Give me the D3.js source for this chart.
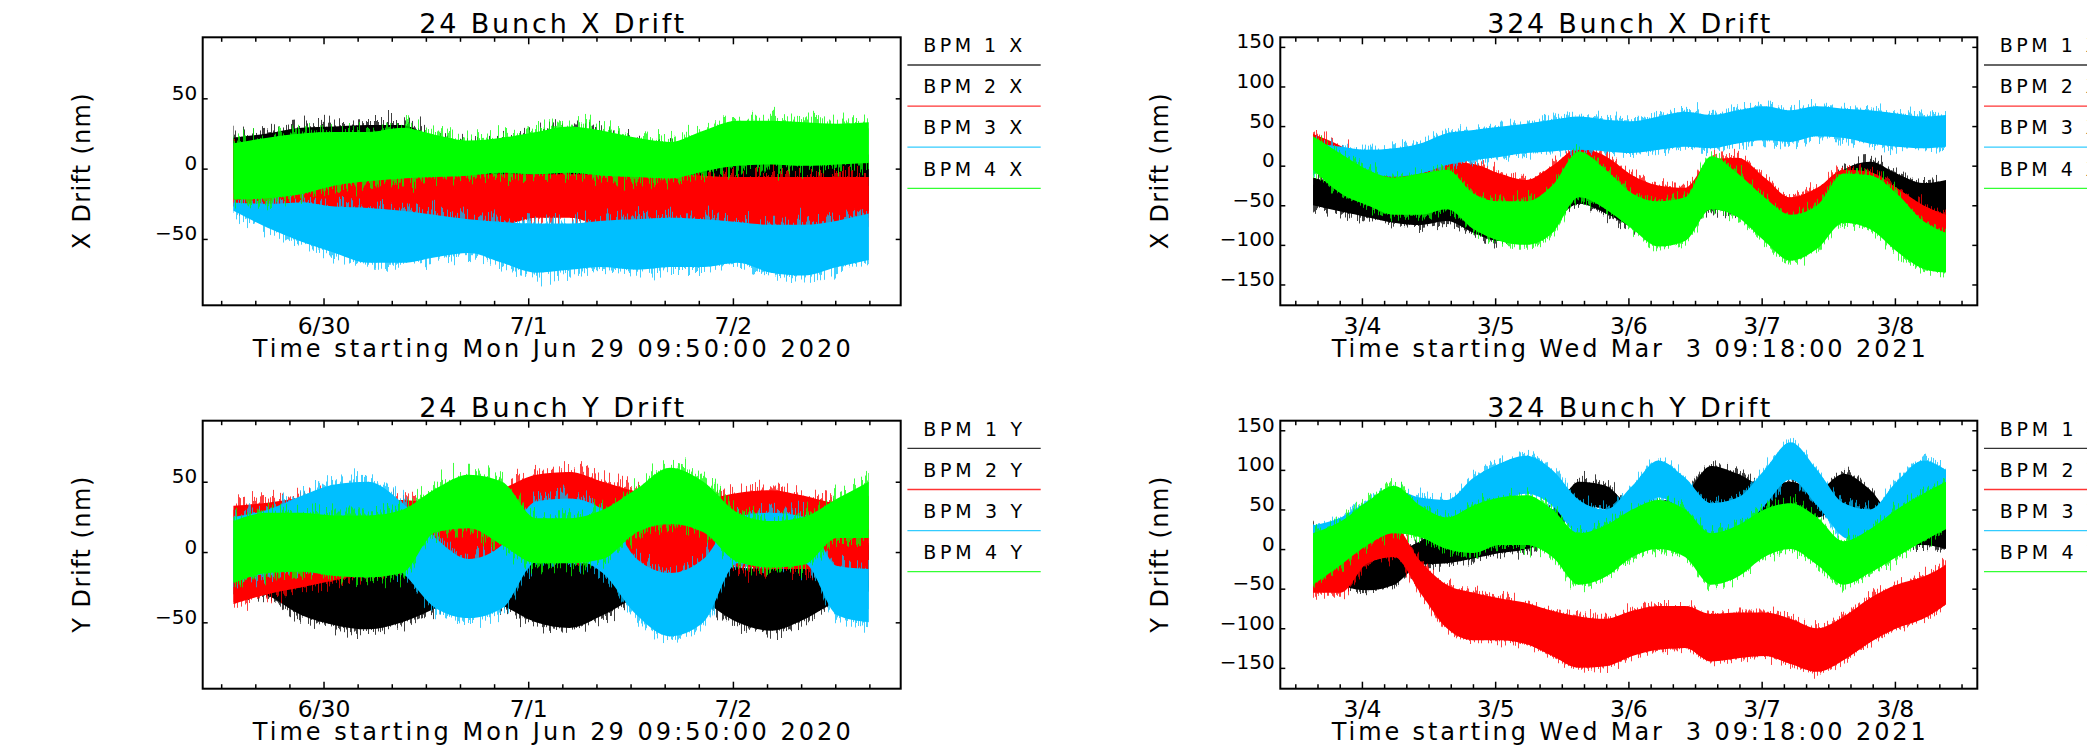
<!DOCTYPE html>
<html><head><meta charset="utf-8">
<script src="https://cdn.jsdelivr.net/npm/d3@7"></script>
<style>
body{margin:0;background:#fff;}
svg text{font-family:"DejaVu Sans",sans-serif;fill:#000;}
</style></head><body>
<svg id="c" width="2087" height="751"></svg>
<script>
// ---------- DATA (hours since the run start, band top / bottom in nm) ----------
const hours24 = [3.6, 7.6, 11.6, 15.5, 19.4, 23.4, 27.3, 31.2, 35.1, 39.1, 43.0, 46.9, 50.9, 54.8, 58.7, 62.7, 66.6, 70.5, 74.4, 78.1];
const hours324 = [5.9, 10.9, 15.7, 20.5, 25.2, 30.0, 34.8, 39.5, 44.3, 49.0, 53.8, 58.6, 63.4, 68.1, 72.9, 77.6, 82.4, 87.2, 91.9, 96.7, 101.5, 106.2, 111.0, 115.8, 119.9];

// 24 bunch X
const x24Bpm1Hi = [22, 25, 29, 30, 31, 31, 20, 16, 18, 25, 28, 25, 18, 14, 8, 5, 5, 5, 4, 5];
const x24Bpm1Lo = [-15, -12, -8, -6, -5, -5, -10, -12, -10, -6, -5, -6, -12, -20, -28, -30, -30, -30, -30, -30];
const x24Bpm2Hi = [15, 8, 2, 0, -2, -3, -4, -4, -4, -4, -4, -4, -4, -4, -5, -6, -6, -6, -6, -6];
const x24Bpm2Lo = [-27, -28, -27, -30, -31, -33, -36, -39, -40, -35, -35, -40, -39, -38, -39, -41, -43, -43, -40, -35];
const x24Bpm3Hi = [-24, -25, -24, -27, -28, -30, -33, -36, -38, -39, -39, -37, -36, -35, -36, -38, -40, -40, -37, -32];
const x24Bpm3Lo = [-30, -42, -52, -60, -67, -67, -63, -60, -67, -74, -72, -70, -72, -70, -70, -67, -74, -76, -70, -65];
const x24Bpm4Hi = [18, 22, 25, 26, 26, 29, 24, 20, 22, 26, 30, 27, 22, 19, 27, 34, 34, 33, 32, 33];
const x24Bpm4Lo = [-22, -21, -18, -12, -9, -7, -6, -5, -3, -4, -3, -5, -6, -7, -2, 2, 3, 2, 3, 4];

// 24 bunch Y
const y24Bpm1Hi = [10, 5, -10, -17, -18, -14, -5, 5, -3, -7, -8, -8, 5, 10, -2, -11, -12, -10, 0, 5];
const y24Bpm1Lo = [-25, -31, -45, -52, -55, -50, -40, -30, -38, -50, -54, -45, -32, -25, -35, -50, -56, -48, -35, -28];
const y24Bpm2Hi = [33, 35, 38, 38, 36, 37, 35, 38, 45, 55, 57, 50, 43, 40, 38, 42, 44, 40, 35, 40];
const y24Bpm2Lo = [-37, -30, -25, -20, -15, -10, -8, -5, -5, 0, 0, -5, -12, -16, -12, -10, -12, -12, -14, -15];
const y24Bpm3Hi = [25, 30, 40, 48, 50, 35, 10, -5, 5, 36, 38, 30, -5, -15, -5, 25, 28, 25, -10, -12];
const y24Bpm3Lo = [-20, -15, -10, -5, -5, -15, -40, -47, -40, -7, -5, -15, -45, -60, -50, -8, -8, -8, -45, -50];
const y24Bpm4Hi = [22, 28, 28, 26, 26, 30, 45, 55, 50, 24, 24, 30, 45, 60, 50, 28, 22, 25, 38, 50];
const y24Bpm4Lo = [-22, -15, -14, -17, -18, -15, 14, 17, 5, -8, -8, -5, 14, 20, 14, -7, -11, -9, 10, 10];

// 324 bunch X
const x324Bpm1Hi = [-15, -25, -35, -45, -50, -45, -55, -65, -60, -45, -25, -35, -50, -65, -55, -30, -40, -55, -65, -55, -5, 5, -10, -22, -18];
const x324Bpm1Lo = [-50, -58, -65, -72, -75, -70, -85, -95, -90, -72, -48, -60, -78, -92, -82, -55, -62, -78, -90, -80, -45, -40, -50, -60, -64];
const x324Bpm2Hi = [40, 25, 5, -8, -5, 5, 2, -10, -18, 0, 22, 12, -12, -25, -28, 8, 10, -15, -40, -28, -5, -8, -28, -50, -62];
const x324Bpm2Lo = [-5, -20, -40, -53, -50, -40, -43, -55, -63, -45, -23, -33, -57, -70, -73, -37, -35, -60, -85, -73, -50, -53, -73, -95, -107];
const x324Bpm3Hi = [28, 24, 20, 22, 28, 41, 45, 49, 53, 58, 62, 58, 56, 62, 68, 64, 70, 75, 70, 75, 72, 70, 66, 62, 64];
const x324Bpm3Lo = [-10, -6, -10, -14, -10, 1, 7, 11, 16, 18, 20, 18, 16, 20, 24, 22, 28, 32, 30, 37, 35, 28, 24, 22, 24];
const x324Bpm4Hi = [37, 15, -5, -15, -10, -5, -35, -45, -45, -25, 18, -5, -35, -45, -40, 12, -10, -40, -62, -50, -10, -12, -35, -70, -85];
const x324Bpm4Lo = [-5, -35, -50, -62, -62, -55, -80, -95, -100, -85, -40, -55, -80, -102, -95, -55, -65, -95, -120, -105, -72, -80, -108, -130, -135];

// 324 bunch Y
const y324Bpm1Hi = [30, -10, -15, -5, 10, 30, 35, 40, 45, 50, 85, 80, 55, 60, 70, 105, 95, 80, 85, 75, 95, 75, 40, 45, 40];
const y324Bpm1Lo = [5, -45, -52, -45, -20, -18, -12, -5, 0, 15, 55, 50, 25, 30, 40, 55, 50, 35, 45, 40, 55, 40, 5, 5, 0];
const y324Bpm2Hi = [-20, -10, 25, 28, -15, -45, -55, -62, -68, -78, -85, -88, -78, -72, -72, -82, -80, -80, -88, -100, -85, -62, -45, -35, -20];
const y324Bpm2Lo = [-55, -55, -18, -10, -55, -100, -115, -115, -120, -135, -150, -148, -135, -127, -125, -142, -138, -135, -145, -155, -140, -118, -100, -88, -70];
const y324Bpm3Hi = [30, 40, 60, 75, 65, 62, 90, 108, 118, 100, 62, 50, 80, 112, 90, 58, 65, 100, 135, 100, 58, 50, 85, 112, 100];
const y324Bpm3Lo = [-5, 0, 20, 35, 25, 25, 45, 60, 70, 55, 15, 5, 35, 65, 45, 12, 20, 55, 88, 55, 15, 5, 40, 65, 55];
const y324Bpm4Hi = [20, 35, 60, 80, 55, 40, 55, 65, 68, 50, 20, 30, 50, 62, 50, 20, 30, 50, 58, 40, 10, 25, 50, 70, 85];
const y324Bpm4Lo = [-45, -20, 5, 20, 15, 0, -5, 5, 5, -10, -45, -35, -10, 0, -10, -45, -35, -10, 0, -20, -45, -30, -10, 10, 25];

const bpmNames = ["BPM 1", "BPM 2", "BPM 3", "BPM 4"];
const yTicks24 = [-50, 0, 50];
const yTicks324 = [-150, -100, -50, 0, 50, 100, 150];
const dayTicks24 = ["2020-06-30", "2020-07-01", "2020-07-02"];
const dayTicks324 = ["2021-03-04", "2021-03-05", "2021-03-06", "2021-03-07", "2021-03-08"];

// ---------- STYLE / LAYOUT ----------
const colors = ["#000000", "#ff0000", "#00bfff", "#00ff00"];
const L24 = 202.7, R24 = 900.7, L324 = 1280.3, R324 = 1977.3;
const panels = [
  {title: "24 Bunch X Drift", titleLen: 265, plane: "X", start: "2020-06-29T09:50:00Z", spanH: 81.84, yDom: [-97.2, 93.4],
   hours: hours24, hi: [x24Bpm1Hi, x24Bpm2Hi, x24Bpm3Hi, x24Bpm4Hi], lo: [x24Bpm1Lo, x24Bpm2Lo, x24Bpm3Lo, x24Bpm4Lo],
   l: L24, r: R24, t: 37.3, b: 305.3, yTicks: yTicks24, days: dayTicks24, tlabel: "Time starting Mon Jun 29 09:50:00 2020", tlen: 598, rough: 46},
  {title: "324 Bunch X Drift", titleLen: 283, plane: "X", start: "2021-03-03T09:18:00Z", spanH: 125.54, yDom: [-176.3, 162.1],
   hours: hours324, hi: [x324Bpm1Hi, x324Bpm2Hi, x324Bpm3Hi, x324Bpm4Hi], lo: [x324Bpm1Lo, x324Bpm2Lo, x324Bpm3Lo, x324Bpm4Lo],
   l: L324, r: R324, t: 37.3, b: 305.3, yTicks: yTicks324, days: dayTicks324, tlabel: "Time starting Wed Mar  3 09:18:00 2021", tlen: 594, rough: 30},
  {title: "24 Bunch Y Drift", titleLen: 265, plane: "Y", start: "2020-06-29T09:50:00Z", spanH: 81.84, yDom: [-97.2, 93.4],
   hours: hours24, hi: [y24Bpm1Hi, y24Bpm2Hi, y24Bpm3Hi, y24Bpm4Hi], lo: [y24Bpm1Lo, y24Bpm2Lo, y24Bpm3Lo, y24Bpm4Lo],
   l: L24, r: R24, t: 420.7, b: 688.7, yTicks: yTicks24, days: dayTicks24, tlabel: "Time starting Mon Jun 29 09:50:00 2020", tlen: 598, rough: 46},
  {title: "324 Bunch Y Drift", titleLen: 283, plane: "Y", start: "2021-03-03T09:18:00Z", spanH: 125.54, yDom: [-176.3, 162.1],
   hours: hours324, hi: [y324Bpm1Hi, y324Bpm2Hi, y324Bpm3Hi, y324Bpm4Hi], lo: [y324Bpm1Lo, y324Bpm2Lo, y324Bpm3Lo, y324Bpm4Lo],
   l: L324, r: R324, t: 420.7, b: 688.7, yTicks: yTicks324, days: dayTicks324, tlabel: "Time starting Wed Mar  3 09:18:00 2021", tlen: 594, rough: 30}
];

const svg = d3.select("#c");
const defs = svg.append("defs");
const HOUR = 3600e3;

// edge-roughening filter: a purely visual texture that jitters the band edges vertically
function makeRough(id, seed, scale) {
  const f = defs.append("filter").attr("id", id).attr("x", "0%").attr("y", "-50%")
    .attr("width", "100%").attr("height", "200%").attr("color-interpolation-filters", "sRGB");
  f.append("feTurbulence").attr("type", "fractalNoise").attr("baseFrequency", "0.7 0.003")
    .attr("numOctaves", 2).attr("seed", seed).attr("result", "n");
  f.append("feColorMatrix").attr("in", "n").attr("type", "matrix")
    .attr("values", "1 0 0 0 0  0 0 0 0 0.5  0 0 0 0 0  0 0 0 0 1").attr("result", "m");
  f.append("feDisplacementMap").attr("in", "SourceGraphic").attr("in2", "m")
    .attr("scale", scale).attr("xChannelSelector", "G").attr("yChannelSelector", "R");
}

panels.forEach((p, pi) => {
  const t0 = new Date(p.start);
  const t1 = new Date(+t0 + p.spanH * HOUR);
  const x = d3.scaleUtc().domain([t0, t1]).range([p.l, p.r]);
  const y = d3.scaleLinear().domain(p.yDom).range([p.b, p.t]);
  const g = svg.append("g");

  const clipId = "clip" + pi;
  defs.append("clipPath").attr("id", clipId).append("rect")
    .attr("x", p.l).attr("y", p.t).attr("width", p.r - p.l).attr("height", p.b - p.t);

  const area = d3.area()
    .x(d => x(new Date(+t0 + d.h * HOUR)))
    .y0(d => y(d.lo)).y1(d => y(d.hi))
    .curve(d3.curveMonotoneX);
  const bands = g.append("g").attr("clip-path", `url(#${clipId})`);
  for (let s = 0; s < 4; s++) {
    const fid = `rough${pi}_${s}`;
    makeRough(fid, 7 + pi * 4 + s, p.rough);
    const pts = p.hours.map((h, i) => ({h, hi: p.hi[s][i], lo: p.lo[s][i]}));
    bands.append("path").datum(pts).attr("d", area)
      .attr("fill", colors[s]).attr("fill-opacity", 0.75).attr("filter", `url(#${fid})`);
    bands.append("path").datum(pts).attr("d", area).attr("fill", colors[s]);
  }

  // axes
  const days = p.days.map(d => new Date(d + "T00:00:00Z"));
  const minors = d3.utcHour.every(4).range(t0, t1).filter(d => d.getUTCHours() !== 0);
  const styleAxis = sel => { sel.select(".domain").remove(); sel.selectAll("line").attr("stroke", "#000").attr("stroke-width", 1.5); };

  g.append("g").attr("transform", `translate(0,${p.b})`)
    .call(d3.axisBottom(x).tickValues(days).tickFormat(d3.utcFormat("%-m/%-d")).tickSize(-7).tickPadding(12))
    .call(styleAxis)
    .call(s => s.selectAll("text").attr("font-size", 23.5).attr("font-family", "DejaVu Sans").attr("fill", "#000"));
  g.append("g").attr("transform", `translate(0,${p.b})`)
    .call(d3.axisBottom(x).tickValues(minors).tickFormat("").tickSize(-4.5)).call(styleAxis);
  g.append("g").attr("transform", `translate(0,${p.t})`)
    .call(d3.axisTop(x).tickValues(days).tickFormat("").tickSize(-7)).call(styleAxis);
  g.append("g").attr("transform", `translate(0,${p.t})`)
    .call(d3.axisTop(x).tickValues(minors).tickFormat("").tickSize(-4.5)).call(styleAxis);
  g.append("g").attr("transform", `translate(${p.l},0)`)
    .call(d3.axisLeft(y).tickValues(p.yTicks).tickSize(-5).tickPadding(5.5))
    .call(styleAxis)
    .call(s => s.selectAll("text").attr("font-size", 20).attr("font-family", "DejaVu Sans").attr("fill", "#000").attr("dy", "0.05em"));
  g.append("g").attr("transform", `translate(${p.r},0)`)
    .call(d3.axisRight(y).tickValues(p.yTicks).tickFormat("").tickSize(-5)).call(styleAxis);

  // frame
  g.append("rect").attr("x", p.l).attr("y", p.t).attr("width", p.r - p.l).attr("height", p.b - p.t)
    .attr("fill", "none").attr("stroke", "#000").attr("stroke-width", 2);

  // titles and labels
  const cx = (p.l + p.r) / 2;
  g.append("text").attr("x", cx).attr("y", p.t - 4).attr("text-anchor", "middle")
    .attr("font-size", 27).attr("textLength", p.titleLen).attr("lengthAdjust", "spacing").text(p.title);
  g.append("text").attr("x", cx).attr("y", p.b + 51.5).attr("text-anchor", "middle")
    .attr("font-size", 24).attr("textLength", p.tlen).attr("lengthAdjust", "spacing")
    .style("white-space", "pre").text(p.tlabel);
  const cy = (p.t + p.b) / 2;
  g.append("text").attr("transform", `translate(${p.l - 112.7},${cy}) rotate(-90)`).attr("text-anchor", "middle")
    .attr("font-size", 24).attr("textLength", 156).attr("lengthAdjust", "spacing")
    .text(`${p.plane} Drift (nm)`);

  // legend
  bpmNames.forEach((n, i) => {
    const ly = p.t + 27.7 + i * 41.1;
    g.append("text").attr("x", p.r + 22.5).attr("y", ly - 12.8).attr("font-size", 19)
      .attr("textLength", 99).attr("lengthAdjust", "spacing").text(`${n} ${p.plane}`);
    g.append("line").attr("x1", p.r + 6.7).attr("x2", p.r + 140).attr("y1", ly).attr("y2", ly)
      .attr("stroke", colors[i]).attr("stroke-width", 1.3).attr("stroke-opacity", 0.8);
  });
});
</script>
</body></html>
